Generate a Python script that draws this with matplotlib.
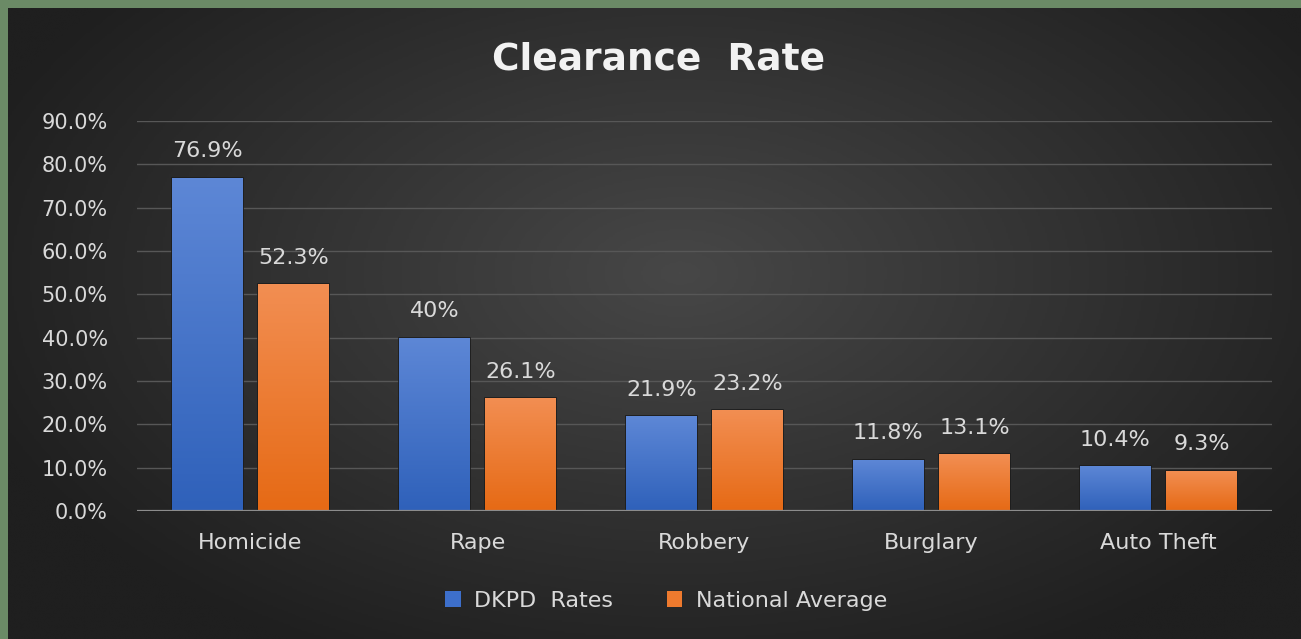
import numpy as np
import matplotlib.pyplot as plt
from matplotlib.colors import LinearSegmentedColormap
from matplotlib.patches import Patch

# clearance rates (%)
categories = ["Homicide", "Rape", "Robbery", "Burglary", "Auto Theft"]
dkpd = [76.9, 40.0, 21.9, 11.8, 10.4]
national = [52.3, 26.1, 23.2, 13.1, 9.3]
dkpd_labels = ["76.9%", "40%", "21.9%", "11.8%", "10.4%"]
national_labels = ["52.3%", "26.1%", "23.2%", "13.1%", "9.3%"]
yticks = [0, 10, 20, 30, 40, 50, 60, 70, 80, 90]

text_color = "#d9d9d9"

fig = plt.figure(figsize=(13.01, 6.39), dpi=100)
fig.patch.set_facecolor("#6b8a66")

# dark radial background (green strip left/top like the screenshot)
bg = fig.add_axes([8 / 1301, 0, 1 - 8 / 1301, 1 - 8 / 639])
yy, xx = np.mgrid[0:1:300j, 0:1:600j]
r = np.sqrt(((xx - 0.52) / 0.8) ** 2 + ((yy - 0.42) / 0.95) ** 2)
bg_cmap = LinearSegmentedColormap.from_list("bg", ["#474747", "#1f1f1f"])
bg.imshow(r, cmap=bg_cmap, aspect="auto", extent=[0, 1, 0, 1], vmin=0, vmax=0.72)
bg.axis("off")

ax = fig.add_axes([137 / 1301, 1 - 511 / 639, 1135 / 1301, 390 / 639])
ax.patch.set_alpha(0)

x = np.arange(len(categories))
w = 0.31
off = 0.19
b1 = ax.bar(x - off, dkpd, w, edgecolor="#1c1c1c", linewidth=1.2, zorder=3)
b2 = ax.bar(x + off, national, w, edgecolor="#1c1c1c", linewidth=1.2, zorder=3)


def gradient_bars(bars, top, bottom):
    cmap = LinearSegmentedColormap.from_list("g", [bottom, top])
    for b in bars:
        x0, y0 = b.get_x(), b.get_y()
        bw, bh = b.get_width(), b.get_height()
        img = ax.imshow(np.linspace(0, 1, 100).reshape(-1, 1), cmap=cmap,
                        extent=[x0, x0 + bw, y0, y0 + bh], origin="lower",
                        aspect="auto", zorder=3.5)
        img.set_clip_path(b)
        b.set_facecolor("none")


gradient_bars(b1, "#5d87d6", "#2f61ba")
gradient_bars(b2, "#f28e52", "#e66a15")

for bars, labels in ((b1, dkpd_labels), (b2, national_labels)):
    for b, lbl in zip(bars, labels):
        ax.annotate(lbl, (b.get_x() + b.get_width() / 2, b.get_height()),
                    xytext=(0, 19), textcoords="offset points",
                    ha="center", va="center", color=text_color, fontsize=16)

ax.set_xlim(-0.5, len(categories) - 0.5)
ax.set_ylim(0, 90)
ax.set_yticks(yticks)
ax.set_yticklabels([f"{v:.1f}%" for v in yticks])
ax.set_xticks(x)
ax.set_xticklabels(categories)
ax.tick_params(axis="y", length=0, colors=text_color, labelsize=15, pad=21)
ax.tick_params(axis="x", length=0, colors=text_color, labelsize=16, pad=16)
ax.yaxis.grid(True, color="#575757", linewidth=1)
ax.set_axisbelow(True)
ax.axhline(0, color="#8c8c8c", linewidth=1.6, zorder=4)
for s in ax.spines.values():
    s.set_visible(False)

fig.text(0.506, 1 - 60 / 639, "Clearance  Rate", ha="center", va="center",
         fontsize=27, fontweight="bold", color="#f2f2f2")

handles = [Patch(facecolor="#3d6fcb", label="DKPD  Rates"),
           Patch(facecolor="#ee7a2e", label="National Average")]
fig.legend(handles=handles, loc="center", bbox_to_anchor=(0.512, 1 - 601 / 639),
           ncol=2, frameon=False, fontsize=16, labelcolor=text_color,
           handlelength=0.7, handleheight=0.7, columnspacing=2.4, handletextpad=0.6)

fig.savefig("out.png", dpi=100, facecolor=fig.get_facecolor())
